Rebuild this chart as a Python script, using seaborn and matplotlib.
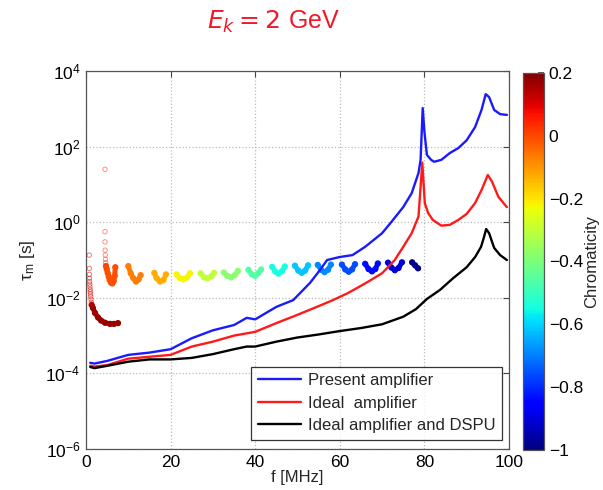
import numpy as np
import pandas as pd
import matplotlib
matplotlib.use("Agg")
import matplotlib.pyplot as plt
import seaborn as sns
from matplotlib import ticker, colors, cm

# ---------------- data ----------------
f_present = [1, 2, 5, 10, 15, 20, 25, 30, 35, 38, 40, 45, 49, 53, 55, 57, 60, 63, 66, 70,
             72, 75, 77, 78.6, 79.1, 79.6, 80.0, 80.6, 81.6, 82.3, 84, 86, 88, 90, 92,
             93.5, 94.5, 95.3, 96.5, 97.9, 99.5]
logtau_present = [-3.72, -3.74, -3.67, -3.51, -3.45, -3.36, -3.07, -2.86, -2.72, -2.53, -2.57,
                  -2.24, -2.06, -1.6, -1.31, -1.0, -0.92, -0.87, -0.65, -0.29,
                  -0.02, 0.40, 0.77, 1.30, 1.65, 3.02, 2.4, 1.78, 1.65, 1.60, 1.65, 1.83, 1.96,
                  2.17, 2.52, 2.97, 3.39, 3.31, 2.97, 2.86, 2.84]

f_ideal = [1, 2, 5, 10, 15, 20, 25, 30, 35, 40, 45, 50, 55, 58.4, 62, 66, 70, 73, 75, 77,
           78.6, 79.0, 79.5, 80.1, 80.9, 82, 84, 86, 88, 90, 92, 93.5, 95, 96, 97.5, 99.5]
logtau_ideal = [-3.80, -3.82, -3.78, -3.61, -3.56, -3.51, -3.29, -3.16, -3.00, -2.90, -2.67,
                -2.45, -2.22, -2.06, -1.87, -1.62, -1.35, -1.0, -0.65, -0.29,
                0.15, 0.77, 1.58, 0.50, 0.24, 0.06, -0.09, -0.07, 0.06, 0.22, 0.51, 0.85,
                1.25, 1.07, 0.67, 0.40]

f_dspu = [1, 2, 5, 10, 15, 20, 25, 30, 35, 38, 40, 45, 50, 55, 60, 65, 70, 75, 78, 80.6,
          83.7, 86.8, 90, 92, 93.4, 94.1, 94.6, 95.3, 96, 96.5, 97.9, 99.5]
logtau_dspu = [-3.83, -3.86, -3.80, -3.69, -3.63, -3.63, -3.59, -3.49, -3.36, -3.29, -3.29,
               -3.16, -3.05, -2.97, -2.88, -2.80, -2.70, -2.50, -2.30, -2.03,
               -1.79, -1.48, -1.19, -0.92, -0.65, -0.39, -0.18, -0.29, -0.52, -0.68, -0.87, -1.0]

# sparse (isolated) chromaticity markers
sparse_f = [[0.78, 0.78, 0.80, 0.83, 0.86, 0.90, 0.94, 0.98, 1.02, 1.07, 1.12, 1.18, 1.25, 1.35],
            [4.49, 4.49, 4.49, 4.52, 4.56, 4.60, 4.66, 4.73]]
sparse_logtau = [[-0.87, -1.22, -1.38, -1.48, -1.57, -1.64, -1.71, -1.78, -1.84, -1.90, -1.97,
                  -2.04, -2.12, -2.19],
                 [1.40, -0.25, -0.52, -0.74, -0.87, -0.98, -1.07, -1.16]]
sparse_chroma = [0.10, 0.03]

# dense chromaticity clusters
cluster_f = [
    [1.35, 1.65, 2.13, 2.84, 3.55, 4.49, 5.67, 6.62, 7.57],
    [4.73, 4.89, 5.13, 5.37, 5.6, 5.91, 6.22, 6.55, 6.78, 6.93],
    [10.0, 10.57, 11.18, 11.82, 12.46, 12.93],
    [16.15, 16.7, 17.5, 18.3, 18.9],
    [21.4, 22.2, 23.0, 23.9, 24.6],
    [27.1, 27.9, 28.8, 29.7, 30.3],
    [32.6, 33.4, 34.3, 35.2, 35.9],
    [38.4, 39.2, 40.0, 40.7, 41.4],
    [44.0, 44.7, 45.5, 46.3, 47.0],
    [49.4, 50.2, 51.0, 51.8, 52.5],
    [54.8, 55.6, 56.4, 57.2, 57.9],
    [60.5, 61.3, 62.1, 62.9, 63.6],
    [66.0, 66.8, 67.6, 68.4, 69.0],
    [71.4, 72.2, 73.0, 73.9, 74.7],
    [77.1, 77.8, 78.5],
]
cluster_logtau = [
    [-2.19, -2.27, -2.40, -2.52, -2.60, -2.66, -2.69, -2.69, -2.67],
    [-1.16, -1.24, -1.34, -1.44, -1.53, -1.60, -1.62, -1.56, -1.42, -1.19],
    [-1.16, -1.35, -1.48, -1.57, -1.51, -1.40],
    [-1.34, -1.48, -1.57, -1.53, -1.38],
    [-1.38, -1.48, -1.51, -1.46, -1.35],
    [-1.35, -1.46, -1.48, -1.42, -1.34],
    [-1.33, -1.42, -1.46, -1.40, -1.29],
    [-1.26, -1.38, -1.42, -1.35, -1.25],
    [-1.18, -1.30, -1.36, -1.30, -1.17],
    [-1.15, -1.28, -1.34, -1.28, -1.14],
    [-1.13, -1.26, -1.32, -1.26, -1.12],
    [-1.12, -1.25, -1.31, -1.25, -1.11],
    [-1.10, -1.24, -1.30, -1.24, -1.09],
    [-1.07, -1.20, -1.27, -1.21, -1.06],
    [-1.06, -1.14, -1.22],
]
cluster_chroma = [0.17, -0.01, -0.07, -0.13, -0.22, -0.30, -0.38, -0.46, -0.55,
                  -0.62, -0.69, -0.76, -0.84, -0.91, -0.99]

legend_labels = ["Present amplifier", "Ideal  amplifier", "Ideal amplifier and DSPU"]
x_ticks = [0, 20, 40, 60, 80, 100]
y_tick_exps = [-6, -4, -2, 0, 2, 4]
cbar_ticks = [-1, -0.8, -0.6, -0.4, -0.2, 0, 0.2]
cbar_ticklabels = ["\u22121", "\u22120.8", "\u22120.6", "\u22120.4", "\u22120.2", "0", "0.2"]

# ---------------- style ----------------
sns.set_theme(style="white")
plt.rcParams["font.family"] = ["Liberation Sans", "DejaVu Sans"]
plt.rcParams["mathtext.fontset"] = "dejavusans"

fig = plt.figure(figsize=(6.03, 4.90), dpi=100)
ax = fig.add_axes([0.1426, 0.0837, 0.7015, 0.7713])
cax = fig.add_axes([0.868, 0.082, 0.034, 0.769])

cmap = plt.get_cmap("jet")
norm = colors.Normalize(vmin=-1, vmax=0.2)

# colored chromaticity markers
for fx, ly, c in zip(cluster_f, cluster_logtau, cluster_chroma):
    col = cmap(norm(c))
    ty = 10 ** np.array(ly)
    ax.plot(fx, ty, color=col, lw=3.6, solid_capstyle="round", solid_joinstyle="round", zorder=2)
    ax.scatter(fx, ty, s=13, facecolors="none", edgecolors=[col], linewidths=0.9, zorder=2)
for fx, ly, c in zip(sparse_f, sparse_logtau, sparse_chroma):
    col = cmap(norm(c))
    ax.scatter(fx, 10 ** np.array(ly), s=10, facecolors="none", edgecolors=[col],
               linewidths=0.6, alpha=0.6, zorder=2)

# main curves
df = pd.concat([
    pd.DataFrame({"f": f_present, "tau": 10 ** np.array(logtau_present), "series": legend_labels[0]}),
    pd.DataFrame({"f": f_ideal, "tau": 10 ** np.array(logtau_ideal), "series": legend_labels[1]}),
    pd.DataFrame({"f": f_dspu, "tau": 10 ** np.array(logtau_dspu), "series": legend_labels[2]}),
])
sns.lineplot(data=df, x="f", y="tau", hue="series", sort=False, estimator=None,
             palette=["#1a1aff", "#ff1a1a", "#000000"], linewidth=1.7, ax=ax, zorder=3)

ax.set_yscale("log")
ax.set_xlim(0, 100)
ax.set_ylim(1e-6, 1e4)
ax.set_xticks(x_ticks)
ax.set_yticks([10.0 ** e for e in y_tick_exps])
ax.set_yticklabels([r"$\mathregular{10^{%d}}$" % e for e in y_tick_exps])
ax.yaxis.set_minor_locator(ticker.NullLocator())
ax.tick_params(axis="both", which="major", direction="in", length=4, width=0.8,
               top=True, right=True, labelsize=12.5, colors="#444444", labelcolor="black", pad=4)
ax.grid(True, which="major", linestyle=":", color="#bbbbbb", linewidth=0.9)
for sp in ax.spines.values():
    sp.set_color("#555555")
    sp.set_linewidth(0.9)

ax.set_xlabel("f [MHz]", fontsize=12, va="center")
ax.xaxis.set_label_coords(0.5, -0.075)
ax.set_ylabel(r"$\mathregular{\tau_m}$ [s]", fontsize=12.5, labelpad=6)

leg = ax.legend(loc="lower right", bbox_to_anchor=(0.983, 0.024), borderaxespad=0,
                fontsize=12, frameon=True, fancybox=False, edgecolor="black",
                handlelength=2.6, handletextpad=0.4, labelspacing=0.45, borderpad=0.4)
leg.get_frame().set_linewidth(0.9)

# colorbar
sm = cm.ScalarMappable(norm=norm, cmap=cmap)
cb = fig.colorbar(sm, cax=cax)
cb.set_ticks(cbar_ticks)
cb.set_ticklabels(cbar_ticklabels)
cb.ax.tick_params(labelsize=12.5, direction="in", length=4, colors="#444444", labelcolor="black")
cb.outline.set_edgecolor("#555555")
cb.outline.set_linewidth(0.9)
cb.set_label("Chromaticity", fontsize=12)
cb.ax.yaxis.set_label_coords(2.95, 0.5)

fig.text(0.453, 0.955, r"$E_k = 2\ \mathregular{GeV}$", color="#f0182a", fontsize=18,
         ha="center", va="center")

fig.savefig("out.png", dpi=100)
